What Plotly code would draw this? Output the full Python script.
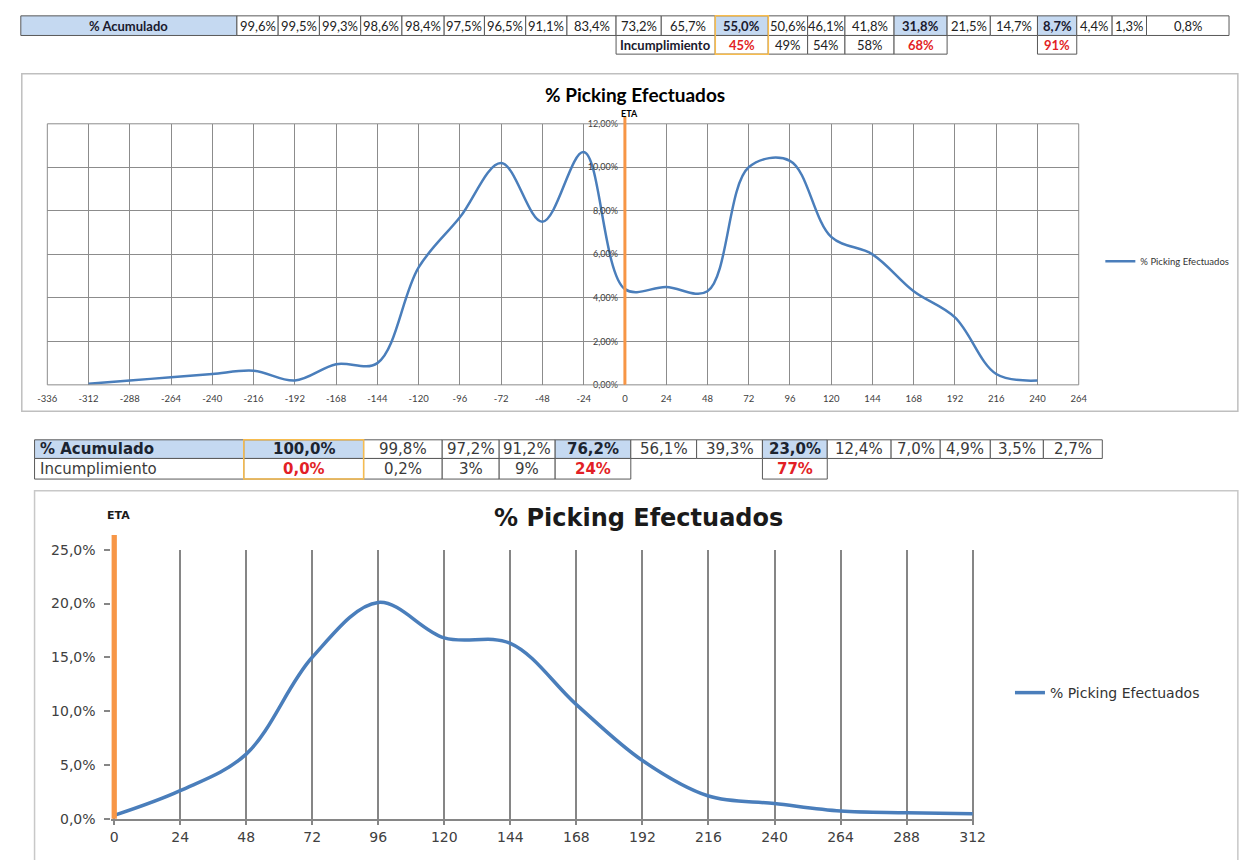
import plotly.graph_objects as go

W, H = 1242, 860

# ---------------- data ----------------
hours_1 = list(range(-312, 241, 24))
picking_1 = [0.05, 0.2, 0.35, 0.5, 0.65, 0.2, 0.95, 1.0, 5.4, 7.7, 10.2, 7.5, 10.7,
             4.4, 4.5, 4.3, 10.0, 10.3, 6.8, 6.0, 4.3, 3.1, 0.5, 0.2]
hours_2 = list(range(0, 313, 24))
picking_2 = [0.3, 2.6, 6.0, 15.0, 20.1, 16.8, 16.3, 10.6, 5.4, 2.1, 1.4, 0.7, 0.55, 0.45]

x1_ticks = list(range(-336, 265, 24))
x1_labels = [str(v) for v in x1_ticks]
y1_ticks = [0, 2, 4, 6, 8, 10, 12]
y1_labels = ["0,00%", "2,00%", "4,00%", "6,00%", "8,00%", "10,00%", "12,00%"]
x2_ticks = list(range(0, 313, 24))
x2_labels = [str(v) for v in x2_ticks]
y2_ticks = [0, 5, 10, 15, 20, 25]
y2_labels = ["0,0%", "5,0%", "10,0%", "15,0%", "20,0%", "25,0%"]

series_name = "% Picking Efectuados"
title_text = "% Picking Efectuados"
eta_text = "ETA"
acum_label = "% Acumulado"
incump_label = "Incumplimiento"

top_acum = [99.6, 99.5, 99.3, 98.6, 98.4, 97.5, 96.5, 91.1, 83.4, 73.2, 65.7, 55.0,
            50.6, 46.1, 41.8, 31.8, 21.5, 14.7, 8.7, 4.4, 1.3, 0.8]
top_incump = [None] * 11 + ["45%", "49%", "54%", "58%", "68%", None, None, "91%",
                            None, None, None]
top_key = [11, 15, 18]

bot_acum = [100.0, 99.8, 97.2, 91.2, 76.2, 56.1, 39.3, 23.0, 12.4, 7.0, 4.9, 3.5, 2.7]
bot_incump = ["0,0%", "0,2%", "3%", "9%", "24%", None, None, "77%",
              None, None, None, None, None]
bot_key = [0, 4, 7]

# ---------------- layout helpers ----------------
def fx(p):
    return p / W


def fy(p):
    return 1 - p / H


def pct(v):
    return f"{v:.1f}".replace(".", ",") + "%"


BLUE = "#4A7EBB"
ORANGE = "#F79646"
CELLBLUE = "#C5D9F1"
GOLD = "#F7BC4E"
RED = "#E21F26"

top_edges = [11, 231, 273, 315, 357, 399, 442, 483, 525, 567, 617, 663, 718, 772,
             812, 850, 900, 954, 998, 1046, 1086, 1122, 1157, 1241]
top_rows = [8, 28, 47]
bot_edges = [25, 238, 360, 440, 498, 555, 632, 699, 766, 832, 897, 947, 998, 1052, 1112]
bot_rows = [440, 459, 480]

shapes = []
annotations = []


def cell(x0, x1, y0, y1, text, fill="white", font=None, line="#595959",
         align="center"):
    shapes.append(dict(type="rect", xref="paper", yref="paper",
                       x0=fx(x0), x1=fx(x1), y0=fy(y1), y1=fy(y0),
                       fillcolor=fill, line=dict(color=line, width=1), layer="below"))
    if text is not None:
        ax = (x0 + x1) / 2 if align == "center" else x0 + 3
        annotations.append(dict(xref="paper", yref="paper", x=fx(ax), y=fy((y0 + y1) / 2),
                                text=text, showarrow=False,
                                xanchor="center" if align == "center" else "left",
                                yanchor="middle", font=font))


# ---- top table ----
tf = dict(family="Lato", size=13, color="#222222")
tfb = dict(family="Lato", size=13, color="#1a1a2e")
cell(top_edges[0], top_edges[1], top_rows[0], top_rows[1], f"<b>{acum_label}</b>",
     fill=CELLBLUE, font=tfb)
for i, v in enumerate(top_acum):
    key = i in top_key
    cell(top_edges[i + 1], top_edges[i + 2], top_rows[0], top_rows[1],
         f"<b>{pct(v)}</b>" if key else pct(v),
         fill=CELLBLUE if key else "white", font=tfb if key else tf)
cell(top_edges[10], top_edges[12], top_rows[1], top_rows[2], f"<b>{incump_label}</b>",
     font=tfb)
for i, v in enumerate(top_incump):
    if v is None:
        continue
    key = i in top_key
    cell(top_edges[i + 1], top_edges[i + 2], top_rows[1], top_rows[2],
         f"<b>{v}</b>" if key else v,
         font=dict(family="Lato", size=13, color=RED) if key else tf)
shapes.append(dict(type="rect", xref="paper", yref="paper",
                   x0=fx(top_edges[12]), x1=fx(top_edges[13]),
                   y0=fy(top_rows[2]), y1=fy(top_rows[0]),
                   line=dict(color=GOLD, width=1.5)))

# ---- bottom table ----
bf = dict(family="DejaVu Sans", size=15, color="#3a3a3a")
bfb = dict(family="DejaVu Sans", size=15, color="#1c2430")
cell(bot_edges[0], bot_edges[1], bot_rows[0], bot_rows[1], f"<b>{acum_label}</b>",
     fill=CELLBLUE, font=bfb, align="left")
for i, v in enumerate(bot_acum):
    key = i in bot_key
    cell(bot_edges[i + 1], bot_edges[i + 2], bot_rows[0], bot_rows[1],
         f"<b>{pct(v)}</b>" if key else pct(v),
         fill=CELLBLUE if key else "white", font=bfb if key else bf)
cell(bot_edges[0], bot_edges[1], bot_rows[1], bot_rows[2], incump_label, font=bf,
     align="left")
for i, v in enumerate(bot_incump):
    if v is None:
        continue
    key = i in bot_key
    cell(bot_edges[i + 1], bot_edges[i + 2], bot_rows[1], bot_rows[2],
         f"<b>{v}</b>" if key else v,
         font=dict(family="DejaVu Sans", size=15, color=RED) if key else bf)
shapes.append(dict(type="rect", xref="paper", yref="paper",
                   x0=fx(bot_edges[1]), x1=fx(bot_edges[2]),
                   y0=fy(bot_rows[2]), y1=fy(bot_rows[0]),
                   line=dict(color=GOLD, width=1.5)))

# ---- chart frames ----
shapes.append(dict(type="rect", xref="paper", yref="paper", x0=fx(12), x1=fx(1250),
                   y0=fy(411), y1=fy(67), line=dict(color="#BFBFBF", width=1.5),
                   layer="below"))
shapes.append(dict(type="rect", xref="paper", yref="paper", x0=fx(25), x1=fx(1250),
                   y0=fy(870), y1=fy(492), line=dict(color="#C8C8C8", width=1.5),
                   layer="below"))

# plot-area box for chart 1
shapes.append(dict(type="rect", xref="x domain", yref="y domain", x0=0, x1=1, y0=0, y1=1,
                   line=dict(color="#8C8C8C", width=1)))
# ETA lines
shapes.append(dict(type="line", xref="x", yref="y domain", x0=0, x1=0, y0=0, y1=1.03,
                   line=dict(color=ORANGE, width=3)))
shapes.append(dict(type="line", xref="x2", yref="y2 domain", x0=0, x1=0, y0=0, y1=1.055,
                   line=dict(color=ORANGE, width=5.5)))

# titles and ETA labels
annotations.append(dict(xref="paper", yref="paper", x=fx(636), y=fy(88),
                        text=f"<b>{title_text}</b>", showarrow=False,
                        font=dict(family="Lato", size=19, color="#000000"),
                        xanchor="center", yanchor="middle"))
annotations.append(dict(xref="x", yref="paper", x=0, y=fy(108), yanchor="middle",
                        xanchor="left", xshift=-5, borderpad=0,
                        text=f"<b>{eta_text}</b>", showarrow=False,
                        font=dict(family="Lato", size=9, color="#000000")))
annotations.append(dict(xref="paper", yref="paper", x=fx(640), y=fy(520),
                        text=f"<b>{title_text}</b>", showarrow=False,
                        font=dict(family="DejaVu Sans", size=24, color="#1a1a1a"),
                        xanchor="center", yanchor="middle"))
annotations.append(dict(xref="paper", yref="paper", x=fx(110), y=fy(517),
                        text=f"<b>{eta_text}</b>", showarrow=False,
                        font=dict(family="DejaVu Sans", size=11, color="#1a1a1a"),
                        xanchor="center", yanchor="middle"))

# ---------------- figure ----------------
fig = go.Figure()
fig.add_trace(go.Scatter(x=hours_1, y=picking_1, mode="lines", name=series_name,
                         line=dict(color=BLUE, width=2.5, shape="spline", smoothing=1),
                         xaxis="x", yaxis="y", legend="legend"))
fig.add_trace(go.Scatter(x=hours_2, y=picking_2, mode="lines", name=series_name,
                         line=dict(color=BLUE, width=3.5, shape="spline", smoothing=1),
                         xaxis="x2", yaxis="y2", legend="legend2"))

x2_left = 106 - (980 - 106) / 312 * 1.0
x2_right = 980 + (980 - 106) / 312 * 0.5

fig.update_layout(
    width=W, height=H, margin=dict(l=0, r=0, t=0, b=0),
    paper_bgcolor="white", plot_bgcolor="white",
    showlegend=True,
    xaxis=dict(domain=[fx(38), fx(1088)], range=[-336, 264], tickvals=x1_ticks,
               ticktext=x1_labels,
               showgrid=True, gridcolor="#8C8C8C", gridwidth=1, zeroline=False,
               showline=False, ticks="", ticklabelstandoff=7,
               tickfont=dict(family="Lato", size=9.5, color="#404040"), anchor="y"),
    yaxis=dict(domain=[fy(384), fy(118)], range=[0, 12], tickvals=y1_ticks,
               ticktext=y1_labels, anchor="free", position=fx(626),
               showgrid=True, gridcolor="#8C8C8C", gridwidth=1, zeroline=False,
               showline=False, ticks="", ticklabelstandoff=7,
               tickfont=dict(family="Lato", size=9, color="#404040")),
    xaxis2=dict(domain=[fx(x2_left), fx(x2_right)], range=[-1, 312.5], tickvals=x2_ticks,
                ticktext=x2_labels,
                showgrid=True, gridcolor="#868686", gridwidth=1.5, zeroline=False,
                showline=True, linecolor="#868686", linewidth=1.5,
                ticks="outside", ticklen=5, tickcolor="#868686", tickwidth=1.5,
                tickfont=dict(family="DejaVu Sans", size=14, color="#404040"), anchor="y2"),
    yaxis2=dict(domain=[fy(826), fy(552)], range=[0, 25], tickvals=y2_ticks,
                ticktext=y2_labels, showgrid=False, zeroline=False,
                showline=False, ticks="outside", ticklen=6, tickcolor="#868686",
                tickwidth=1.5, ticklabelstandoff=6,
                tickfont=dict(family="DejaVu Sans", size=14, color="#404040"), anchor="x2"),
    legend=dict(x=fx(1110), y=fy(258), xanchor="left", yanchor="middle",
                bgcolor="rgba(0,0,0,0)", font=dict(family="Lato", size=9.5, color="#333333"),
                itemwidth=30),
    legend2=dict(x=fx(1018), y=fy(698), xanchor="left", yanchor="middle",
                 bgcolor="rgba(0,0,0,0)",
                 font=dict(family="DejaVu Sans", size=14, color="#333333"), itemwidth=30),
    shapes=shapes,
    annotations=annotations,
)

fig.write_html(
    "out.html",
    config={"displayModeBar": False},
    post_script="document.body.style.margin='0';document.body.style.padding='0';"
                "document.documentElement.style.overflow='hidden';"
                "document.body.style.overflow='hidden';",
)
